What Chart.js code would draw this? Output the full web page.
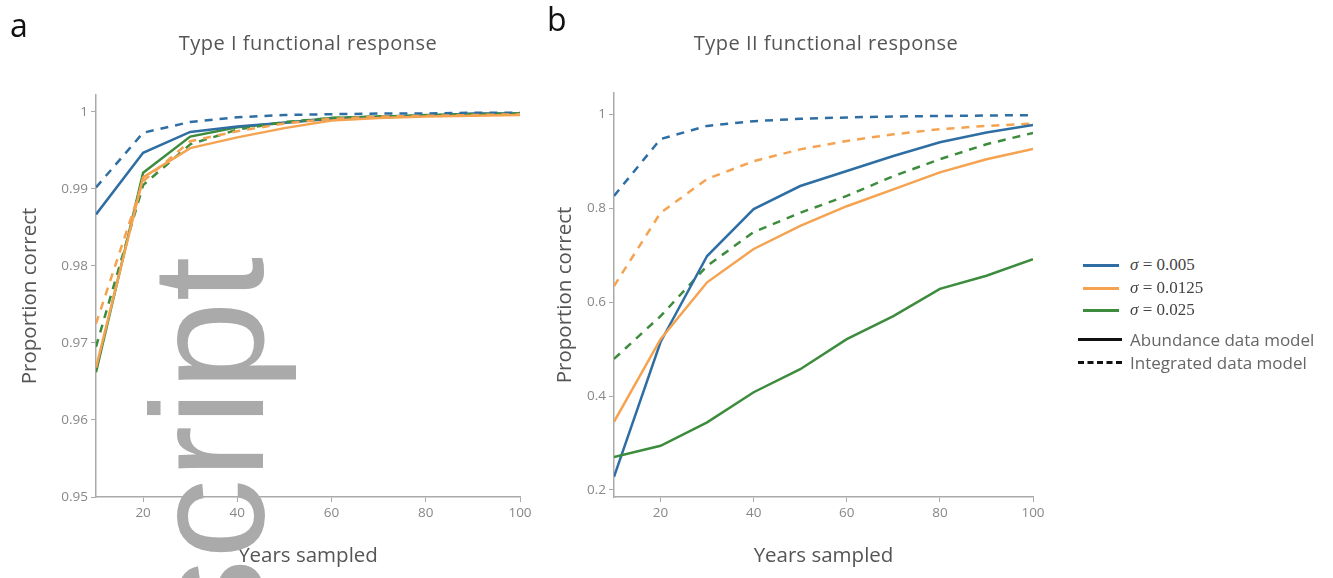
<!DOCTYPE html>
<html>
<head>
<meta charset="utf-8">
<script src="https://cdn.jsdelivr.net/npm/chart.js@4.4.0/dist/chart.umd.min.js"></script>
<style>
body { margin: 0; width: 1333px; height: 578px; position: relative; background: #fff; overflow: hidden; font-family: "Open Sans", sans-serif; }
.box { position: absolute; top: 0; height: 578px; }
.letter { position: absolute; font-size: 32px; color: #111; line-height: 1; }
.title { position: absolute; font-size: 20px; letter-spacing: 0.5px; color: #555; transform: translateX(-50%); white-space: nowrap; }
.leg { position: absolute; left: 1083px; display: flex; align-items: center; height: 20px; white-space: nowrap; }
.sw { width: 36px; height: 0; border-top-width: 3px; margin-right: 11px; }
.sig { font-family: "Liberation Serif", serif; font-size: 17px; color: #444; }
.mod { font-size: 17px; color: #666; }
#mark { position: absolute; left: 128px; top: 639px; font-family: "Liberation Sans", sans-serif; font-size: 160px; line-height: 1; color: #aaa; white-space: nowrap; transform: rotate(-90deg); transform-origin: left top; z-index: 5; }
</style>
</head>
<body>
<div class="box" style="left:0;width:545px"><canvas id="chartA"></canvas></div>
<div class="box" style="left:520px;width:560px"><canvas id="chartB"></canvas></div>

<div class="letter" style="left:10px;top:9px">a</div>
<div class="letter" style="left:547px;top:3px">b</div>
<div class="title" style="left:308px;top:29px">Type I functional response</div>
<div class="title" style="left:826px;top:29px">Type II functional response</div>

<div class="leg" style="top:255px"><div class="sw" style="border-top:3px solid #2f6ea3"></div><span class="sig"><i>σ</i> = 0.005</span></div>
<div class="leg" style="top:278px"><div class="sw" style="border-top:3px solid #f5a350"></div><span class="sig"><i>σ</i> = 0.0125</span></div>
<div class="leg" style="top:300px"><div class="sw" style="border-top:3px solid #3d8c3d"></div><span class="sig"><i>σ</i> = 0.025</span></div>
<div class="leg" style="top:329px;left:1078px"><div class="sw" style="border-top:3px solid #111;width:44px;margin-right:8px"></div><span class="mod">Abundance data model</span></div>
<div class="leg" style="top:352px;left:1078px"><div class="sw" style="border-top:3px dashed #111;width:44px;margin-right:8px"></div><span class="mod">Integrated data model</span></div>

<div id="mark">script</div>

<script>
// years sampled (x)
const years = [10, 20, 30, 40, 50, 60, 70, 80, 90, 100]

// panel a: Type I functional response
const aBlueAbund = [0.9867, 0.9947, 0.9974, 0.9981, 0.9986, 0.9991, 0.9993, 0.9995, 0.9998, 0.9998]
const aOrangeAbund = [0.9668, 0.9915, 0.9953, 0.9967, 0.9979, 0.9989, 0.9992, 0.9994, 0.9995, 0.9996]
const aGreenAbund = [0.9662, 0.9921, 0.9968, 0.998, 0.9986, 0.9992, 0.9994, 0.9995, 0.9997, 0.9997]
const aBlueInteg = [0.9902, 0.9973, 0.9987, 0.9993, 0.9996, 0.9997, 0.9998, 0.9998, 0.9999, 0.9999]
const aOrangeInteg = [0.9725, 0.991, 0.9962, 0.9975, 0.9985, 0.9991, 0.9994, 0.9995, 0.9996, 0.9997]
const aGreenInteg = [0.9695, 0.9905, 0.9958, 0.9977, 0.9987, 0.9992, 0.9994, 0.9996, 0.9997, 0.9998]

// panel b: Type II functional response
const bBlueAbund = [0.228, 0.515, 0.698, 0.798, 0.847, 0.879, 0.911, 0.94, 0.961, 0.977]
const bOrangeAbund = [0.345, 0.521, 0.642, 0.713, 0.762, 0.804, 0.84, 0.876, 0.904, 0.926]
const bGreenAbund = [0.27, 0.294, 0.344, 0.408, 0.457, 0.521, 0.57, 0.628, 0.656, 0.691]
const bBlueInteg = [0.826, 0.947, 0.975, 0.985, 0.99, 0.993, 0.995, 0.996, 0.997, 0.998]
const bOrangeInteg = [0.634, 0.79, 0.862, 0.9, 0.925, 0.943, 0.957, 0.968, 0.975, 0.98]
const bGreenInteg = [0.479, 0.57, 0.677, 0.749, 0.79, 0.826, 0.868, 0.904, 0.936, 0.96]

const aTicks = [0.95, 0.96, 0.97, 0.98, 0.99, 1]
const bTicks = [0.2, 0.4, 0.6, 0.8, 1]
const xTicks = [20, 40, 60, 80, 100]

const blue = "#2f6ea3", orange = "#f5a350", green = "#3d8c3d"
const dash = [8, 7]

Chart.defaults.font.family = "'Open Sans', sans-serif"
Chart.defaults.color = "#888"

function pts(vals) {
    return vals.map((v, i) => ({ x: years[i], y: v }))
}

function series(vals, color, dashed) {
    return {
        data: pts(vals),
        borderColor: color,
        borderWidth: 2.5,
        borderDash: dashed ? dash : [],
        pointRadius: 0,
        fill: false,
        tension: 0
    }
}

function makeChart(id, sets, yMin, yMax, yTicks, yWidth, pad) {
    return new Chart(document.getElementById(id), {
        type: "line",
        data: { datasets: sets },
        options: {
            responsive: true,
            maintainAspectRatio: false,
            animation: false,
            layout: { padding: pad },
            plugins: { legend: { display: false }, tooltip: { enabled: false } },
            scales: {
                x: {
                    type: "linear",
                    min: 10,
                    max: 100,
                    afterBuildTicks: s => { s.ticks = xTicks.map(v => ({ value: v })) },
                    afterFit: s => { s.height = 75 },
                    ticks: { font: { size: 13.5 }, color: "#888", maxRotation: 0, padding: 3 },
                    grid: { drawOnChartArea: false, drawTicks: true, tickLength: 5, color: "#aaa" },
                    border: { color: "#aaa", width: 1.5 },
                    title: { display: true, text: "Years sampled", font: { size: 20.5 }, color: "#555" }
                },
                y: {
                    min: yMin,
                    max: yMax,
                    afterBuildTicks: s => { s.ticks = yTicks.map(v => ({ value: v })) },
                    afterFit: s => { s.width = yWidth },
                    ticks: { font: { size: 13.5 }, color: "#888", padding: 3, callback: v => String(Math.round(v * 100) / 100) },
                    grid: { drawOnChartArea: false, drawTicks: true, tickLength: 5, color: "#aaa" },
                    border: { color: "#aaa", width: 1.5 },
                    title: { display: true, text: "Proportion correct", font: { size: 20.5 }, color: "#555" }
                }
            }
        }
    })
}

makeChart("chartA", [
    series(aOrangeAbund, orange, false),
    series(aOrangeInteg, orange, true),
    series(aGreenInteg, green, true),
    series(aBlueAbund, blue, false),
    series(aBlueInteg, blue, true),
    series(aGreenAbund, green, false)
], 0.95, 1.0022, aTicks, 82, { left: 14, right: 25, top: 95, bottom: 6 })

makeChart("chartB", [
    series(bGreenAbund, green, false),
    series(bOrangeAbund, orange, false),
    series(bBlueAbund, blue, false),
    series(bGreenInteg, green, true),
    series(bOrangeInteg, orange, true),
    series(bBlueInteg, blue, true)
], 0.185, 1.045, bTicks, 65, { left: 29, right: 47, top: 93, bottom: 6 })
</script>
</body>
</html>
